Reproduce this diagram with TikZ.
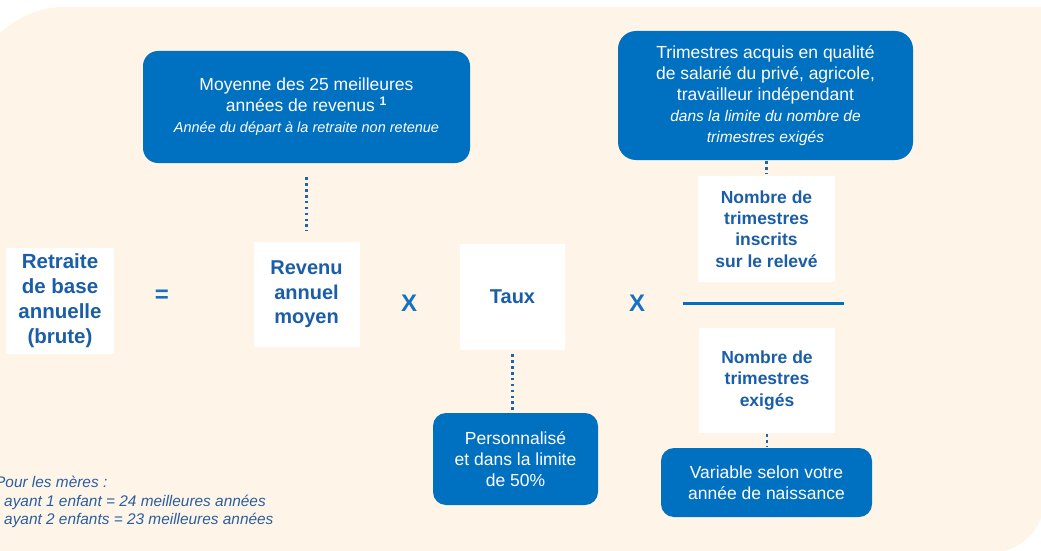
\documentclass[tikz,border=0pt]{standalone}
\usepackage{fontspec}
\setmainfont{Liberation Sans}
\definecolor{cream}{HTML}{FEF5E8}
\definecolor{boxblue}{HTML}{0070C0}
\definecolor{darkblue}{HTML}{1A5DA8}
\definecolor{opblue}{HTML}{1472C4}
\definecolor{dotblue}{HTML}{1E63AE}
\definecolor{noteblue}{HTML}{2A5EA0}
\newcommand\bxitalA{\itshape\fontsize{14.5}{18}\selectfont}
\newcommand\bxitalB{\itshape\fontsize{15.5}{19}\selectfont}
\begin{document}
\begin{tikzpicture}[x=1pt,y=-1pt,
  bluebox/.style={fill=boxblue, rounded corners=15pt, text=white, align=center, inner sep=0pt, font=\fontsize{17.5}{21}\selectfont},
  whitebox/.style={fill=white, text=darkblue, align=center, inner sep=0pt, font=\bfseries\fontsize{20.5}{25}\selectfont},
  fracbox/.style={whitebox, font=\bfseries\fontsize{17.5}{21.3}\selectfont},
  dotline/.style={draw=dotblue, line width=2.6pt, dash pattern=on 2.6pt off 3.3pt},
  opsign/.style={text=opblue, inner sep=0pt, font=\bfseries\fontsize{24}{24}\selectfont},
  fracline/.style={draw=boxblue, line width=3pt},
  note/.style={text=noteblue, align=left, inner sep=0pt, font=\itshape\fontsize{15.4}{18.5}\selectfont}]
\useasboundingbox (0,0) rectangle (1041,551);
% background
\fill[cream] (-29,560) -- (-29,101) .. controls (-29,49.1) and (13.1,7) .. (65,7) -- (1045,7) -- (1045,498) .. controls (1045,528.4) and (1020.4,553) .. (990,553) -- (990,560) -- cycle;

% blue boxes
\node[bluebox, minimum width=327pt, minimum height=112pt] (mA) at (306.5,107)
  {Moyenne des 25 meilleures\\ années de revenus \textsuperscript{\bfseries 1}\\ \bxitalA Année du départ à la retraite non retenue};
\node[bluebox, rounded corners=18pt, minimum width=295pt, minimum height=129pt] (mB) at (765.5,95.5)
  {Trimestres acquis en qualité\\ de salarié du privé, agricole,\\ travailleur indépendant\\ \bxitalB dans la limite du nombre de\\ \bxitalB trimestres exigés};
\node[bluebox, rounded corners=13pt, minimum width=165pt, minimum height=92pt] (perso) at (515.5,459)
  {Personnalisé\\ et dans la limite\\ de 50\%};
\node[bluebox, rounded corners=13pt, minimum width=211pt, minimum height=69pt] (var) at (766.5,482.5)
  {Variable selon votre\\ année de naissance};

% white boxes
\node[whitebox, minimum width=108pt, minimum height=106pt] (ret) at (60,301)
  {Retraite\\ de base\\ annuelle\\ (brute)};
\node[whitebox, font=\bfseries\fontsize{20}{24.5}\selectfont, minimum width=106pt, minimum height=105pt] (rev) at (306.5,294.5)
  {Revenu\\ annuel\\ moyen};
\node[whitebox, font=\bfseries\fontsize{20}{24.5}\selectfont, minimum width=105pt, minimum height=106pt] (taux) at (512.5,297)
  {Taux};
\node[fracbox, minimum width=137pt, minimum height=106pt] (num) at (766.5,229)
  {Nombre de\\ trimestres\\ inscrits\\ sur le relevé};
\node[fracbox, minimum width=136pt, minimum height=105pt] (den) at (767,380.5)
  {Nombre de\\ trimestres\\ exigés};

% operators
\node[opsign] (eq) at (162,296) {=};
\node[opsign] (x1) at (409,303) {X};
\node[opsign] (x2) at (637,303) {X};
\draw[fracline] (683,303) -- (844,303);

% dotted connectors
\draw[dotline, shorten <=14pt, shorten >=11pt] (mA.south) -- (mA.south |- rev.north);
\draw[dotline, shorten <=4pt, shorten >=3pt] (taux.south) -- (taux.south |- perso.north);
\draw[dotline, shorten <=1pt, shorten >=2pt] (num.north |- mB.south) -- (num.north);
\draw[dotline, shorten <=1pt, shorten >=1pt] (den.south) -- (den.south |- var.north);

% footnote
\node[note, anchor=west] (foot) at (-5,502)
  {Pour les mères :\\ \hspace*{9pt}ayant 1 enfant = 24 meilleures années\\ \hspace*{9pt}ayant 2 enfants = 23 meilleures années};
\end{tikzpicture}
\end{document}
